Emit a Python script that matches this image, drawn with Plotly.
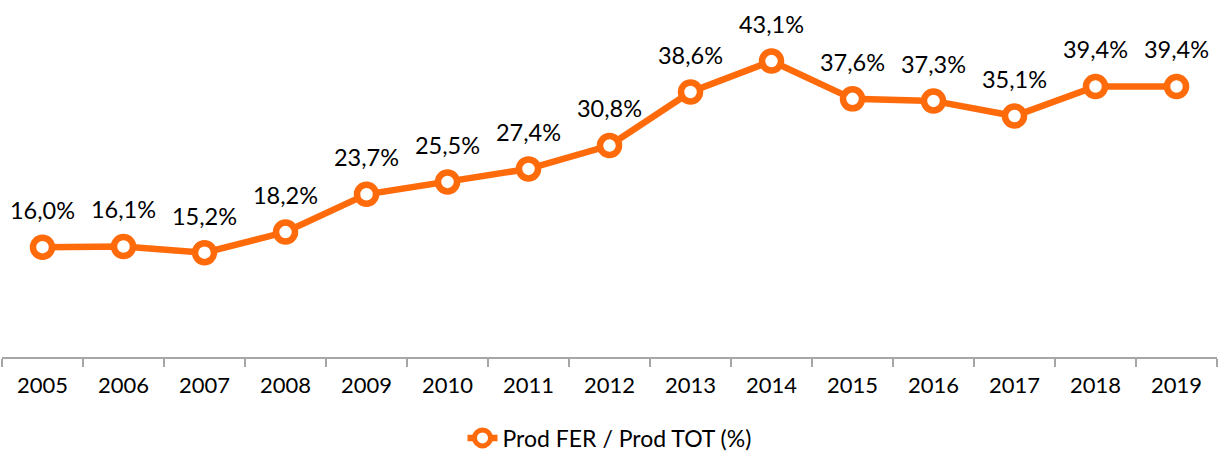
import plotly.graph_objects as go

years = ["2005", "2006", "2007", "2008", "2009", "2010", "2011", "2012",
         "2013", "2014", "2015", "2016", "2017", "2018", "2019"]
values = [16.0, 16.1, 15.2, 18.2, 23.7, 25.5, 27.4, 30.8,
          38.6, 43.1, 37.6, 37.3, 35.1, 39.4, 39.4]
labels = [f"{v:.1f}%".replace(".", ",") for v in values]

orange = "#FF6A0A"
font_family = "Lato, Open Sans, sans-serif"

fig = go.Figure()
fig.add_trace(go.Scatter(
    x=years, y=values, mode="lines+markers",
    name="Prod FER / Prod TOT (%)",
    line=dict(color=orange, width=6.5),
    marker=dict(size=19, color="white", line=dict(color=orange, width=6.5)),
    cliponaxis=False,
))
# data labels (transparent larger markers give the label offset)
fig.add_trace(go.Scatter(
    x=years, y=values, mode="markers+text",
    marker=dict(size=34, color="rgba(0,0,0,0)"),
    text=labels, textposition="top center",
    textfont=dict(family=font_family, size=23.5, color="black"),
    showlegend=False, hoverinfo="skip", cliponaxis=False,
))

fig.update_layout(
    width=1218, height=452,
    margin=dict(l=2, r=1, t=0, b=95, autoexpand=False),
    paper_bgcolor="white", plot_bgcolor="white",
    showlegend=True,
    legend=dict(orientation="h", x=0.5, xanchor="center",
                yref="container", y=0.031, yanchor="middle",
                font=dict(family=font_family, size=23, color="black")),
    xaxis=dict(type="category", range=[-0.5, 14.5], autorange=False,
               showline=True, linecolor="#A6A6A6", linewidth=1.5,
               ticks="outside", tickson="boundaries", ticklen=8, tickcolor="#A6A6A6",
               tickwidth=1.5, showgrid=False, zeroline=False, automargin=False,
               ticklabelstandoff=8,
               tickfont=dict(family=font_family, size=22, color="black")),
    yaxis=dict(range=[0, 52], autorange=False, visible=False, showgrid=False,
               zeroline=False),
)

fig.write_html("out.html", config={"displayModeBar": False},
               post_script="document.body.style.margin='0';document.body.style.padding='0';")
